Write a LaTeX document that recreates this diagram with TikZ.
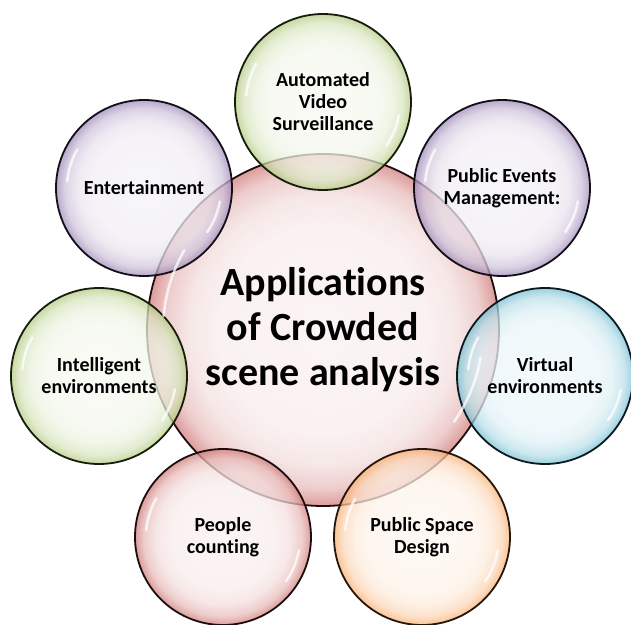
\documentclass[tikz,border=0pt]{standalone}
\usepackage{fontspec}
\setmainfont[Ligatures=NoCommon]{Carlito}
\usetikzlibrary{positioning}

% glassy bubble: pale centre, tinted rim (rim sits at 25bp)
\colorlet{bubblerim}{red}
\pgfdeclareradialshading[bubblerim]{bubble}{\pgfpoint{0bp}{0bp}}{%
  color(0bp)=(bubblerim!8!white); color(15bp)=(bubblerim!11!white);
  color(19bp)=(bubblerim!18!white); color(22.5bp)=(bubblerim!38!white);
  color(25bp)=(bubblerim!75!white); color(50bp)=(bubblerim!75!white)}

\definecolor{olive}{RGB}{155,187,89}
\definecolor{lilac}{RGB}{128,100,162}
\definecolor{aqua}{RGB}{75,172,198}
\definecolor{tangerine}{RGB}{247,150,70}
\definecolor{brick}{RGB}{192,80,77}

\tikzset{
  bubble/.style={circle, draw=#1!15!black, line width=1.8pt,
    /utils/exec={\colorlet{bubblerim}{#1}}, shading=bubble,
    fill opacity=.75, text opacity=1, inner sep=0pt, align=center,
    minimum size=176pt, font=\bfseries\fontsize{20}{22}\selectfont},
  hub/.style={bubble=#1, minimum size=352pt, font=\bfseries\fontsize{40}{45}\selectfont},
  gloss/.style={white, line width=2.5pt, line cap=round, opacity=.75}
}

\begin{document}
\begin{tikzpicture}[x=1pt, y=1pt]
  \useasboundingbox (0,0) rectangle (631,624);

  \node[hub=brick] (apps) at (323,294) {Applications\\of Crowded\\scene analysis};

  \node[bubble=olive] (video) at (323,522) {Automated\\Video\\Surveillance};
  \node[bubble=lilac] (events) at (502,436) {Public Events\\Management:};
  \node[bubble=aqua] (virtual) at (545,248) {Virtual\\environments};
  \node[bubble=tangerine] (space) at (422,87) {Public Space\\Design};
  \node[bubble=brick] (people) at (223,87) {People\\counting};
  \node[bubble=olive] (intel) at (99,248) {Intelligent\\environments};
  \node[bubble=lilac] (fun) at (144,436) {Entertainment};

  % highlights on the rims
  \foreach \n/\r in {apps/160, video/77, events/77, virtual/77, space/77, people/77, intel/77, fun/77} {
    \draw[gloss] ([shift={(150:\r)}]\n.center) arc[start angle=150, end angle=175, radius=\r];
    \draw[gloss] ([shift={(-35:\r)}]\n.center) arc[start angle=-35, end angle=-10, radius=\r];
  }
\end{tikzpicture}
\end{document}
